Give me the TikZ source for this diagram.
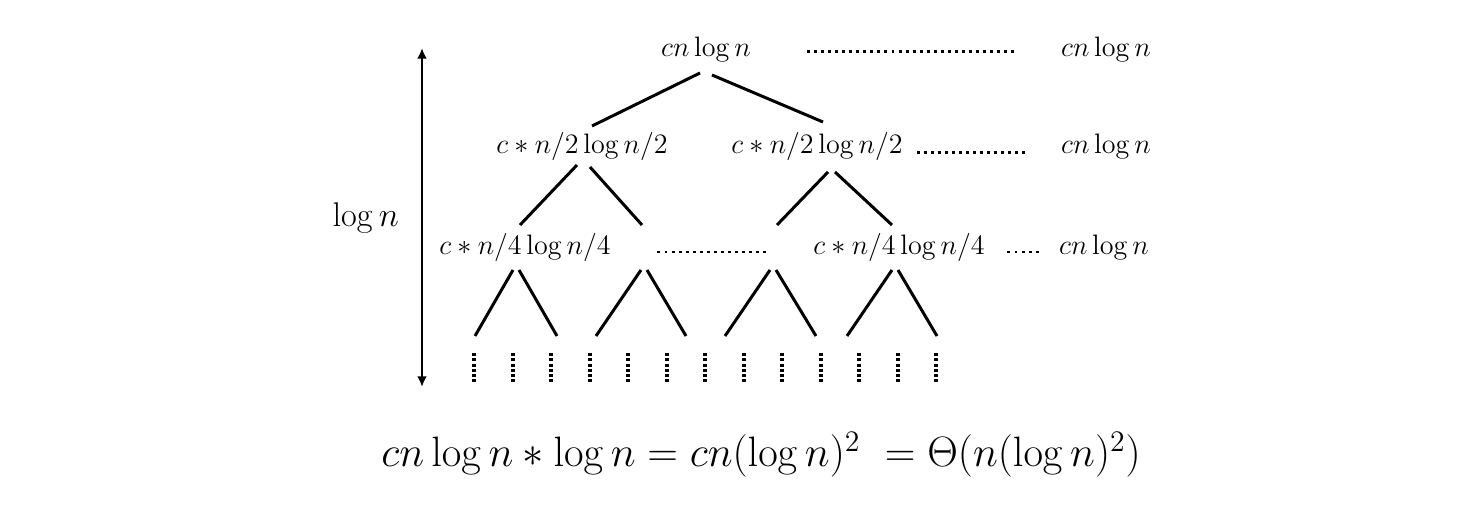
\documentclass[tikz,border=0pt]{standalone}
\usepackage{fix-cm}
\usepackage{amsmath}
\usepackage{tikz}
\usetikzlibrary{calc,arrows.meta}
\tikzset{>={Latex[length=6pt,width=5.5pt]}}

\begin{document}
\begin{tikzpicture}[x=0.02cm,y=-0.02cm]
      \tikzstyle{term}=[inner sep=0pt,anchor=base,font=\fontsize{16}{19}\selectfont]
      \tikzstyle{edge}=[line width=1.7pt]
      \tikzstyle{dots}=[line width=1.7pt,dash pattern=on 1.7pt off 2.3pt]
      \tikzstyle{vdots}=[line width=2.1pt,dash pattern=on 1.7pt off 1.3pt]
      \useasboundingbox (0,0) rectangle (1458,526);
      %%% depth arrow
      \coordinate (top) at (422,48);
      \coordinate (bottom) at (422,387);
      \draw[line width=1.4pt,<->] (top) -- node[midway,anchor=east,inner sep=0pt,xshift=-12.5pt,font=\fontsize{19.5}{23}\selectfont] (depth) {$\log n$} (bottom);
      %%% level 1
      \node[term] (root) at (706,57) {$cn\log n$};
      \node[term] (sum1) at (1106,57) {$cn\log n$};
      \draw[dots] ($(root.base east)+(56,-5)$) -- ($(sum1.base west)+(-43,-5)$);
      %%% level 2
      \node[term] (n2a) at (582,154) {$c*n/2\log n/2$};
      \node[term] (n2b) at (817,154) {$c*n/2\log n/2$};
      \node[term] (sum2) at (1106,154) {$cn\log n$};
      \draw[edge] ($(root.base)+(-6,16)$) -- ($(n2a.base)+(10,-28)$);
      \draw[edge] ($(root.base)+(6,18)$) -- ($(n2b.base)+(6,-32)$);
      \draw[dots] ($(n2b.base east)+(14,-1.5)$) -- ($(sum2.base west)+(-36,-1.5)$);
      %%% level 3
      \node[term] (n4a) at (525,255) {$c*n/4\log n/4$};
      \node[term] (n4b) at (899,255) {$c*n/4\log n/4$};
      \node[term] (sum3) at (1104,255) {$cn\log n$};
      \coordinate (mida) at (642,225);
      \coordinate (midb) at (777,225);
      \draw[edge] ($(n2a.base)+(-5,11)$) -- ($(n4a.base)+(-5,-30)$);
      \draw[edge] ($(n2a.base)+(8,13)$) -- (mida);
      \draw[edge] ($(n2b.base)+(11,18)$) -- (midb);
      \draw[edge] ($(n2b.base)+(18,18)$) -- ($(n4b.base)+(-7,-30)$);
      \draw[dots] ($(n4a.base east)+(46.5,-3)$) -- ($(n4b.base west)+(-43.5,-3)$);
      \draw[dots] ($(n4b.base east)+(22.5,-3)$) -- ($(sum3.base west)+(-17,-3)$);
      %%% level 4
      \foreach \x/\l/\r in {516/475/557,644/596/686,773/725/816,895/847/937}
      {
      \draw[edge] (\x-3,270) -- (\l,336);
      \draw[edge] (\x+3,270) -- (\r,336);
      }
      \foreach \x in {474,513,551,590,628,667,705,744,782,821,859,898,936}
      \draw[vdots] (\x,353) -- (\x,383);
      %%% total
      \node[inner sep=0pt,anchor=base,font=\fontsize{24.2}{29}\selectfont] (total) at (761,467) {$cn\log n*\log n=cn(\log n)^2\ =\Theta(n(\log n)^2)$};
\end{tikzpicture}
\end{document}
